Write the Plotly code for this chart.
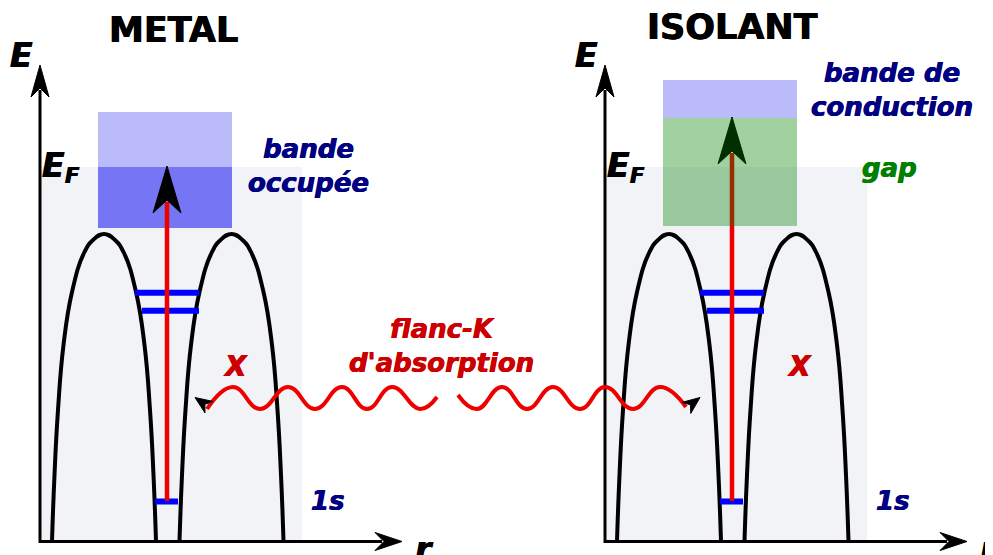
import plotly.graph_objects as go

W, H = 993, 555
FONT = "DejaVu Sans"
PAGE_MARGIN = 8  # default body margin of the html page

# ---- layout data (pixel space, y downward) ----
panel_offsets = [0, 565]
panel_titles = ["METAL", "ISOLANT"]
title_x = [173, 732]
title_y = [30, 27]

axis_x = 40
axis_bottom = 541.5
axis_top_tip = 65
axis_right_tip = 402

ef_box = dict(x0=40, x1=302, y0=167, y1=541.5)

well_centers = [104, 231.5]
well_profile_y = [234, 240, 253, 292, 345, 410, 475, 541]
well_profile_w = [0, 11, 20, 32, 40.5, 46, 49.5, 52]

level_y = [292.7, 310.7, 501.5]
level_x0 = [135, 142, 155]
level_x1 = [199, 199, 178]

band_x = [98, 232]
metal_light_y = [112, 167]
metal_dark_y = [167, 228]
iso_cond_y = [80, 118]
iso_gap_y = [118, 226]

arrow_x = 167
arrow_base_y = 501
arrow_tip_y = [166, 117]

# X-ray wave (read extrema)
wave1_x = [207, 233, 260, 288, 315, 342, 367, 392, 420, 437]
wave1_y = [409, 387, 409, 387, 409, 387, 409, 387, 409, 397]
wave2_x = [458, 477, 502, 527, 553, 580, 605, 633, 660, 686]
wave2_y = [395, 409, 387, 409, 387, 409, 387, 409, 387, 407]

# colours
C_GRAY = "#f2f3f7"
C_LIGHT = "#bbbbf9"
C_DARK = "#7676f4"
C_GREEN = "rgba(0,128,0,0.37)"
C_RED = "#ee0000"
C_TXT_RED = "#cc0000"
C_NAVY = "#000080"
C_BLUE = "#0000ff"

fig = go.Figure()
shapes = []
annotations = []


def arrowhead(tx, ty, dx, dy, L, Wd, notch, color="black"):
    n = (dx * dx + dy * dy) ** 0.5
    ux, uy = dx / n, dy / n
    px, py = -uy, ux
    bx, by = tx - L * ux, ty - L * uy
    nx, ny = tx - (L - notch) * ux, ty - (L - notch) * uy
    xs = [tx, bx + Wd * px, nx, bx - Wd * px, tx]
    ys = [ty, by + Wd * py, ny, by - Wd * py, ty]
    fig.add_trace(go.Scatter(x=xs, y=ys, mode="lines", fill="toself",
                             fillcolor=color, line=dict(color=color, width=1),
                             hoverinfo="skip", showlegend=False))


def line(xs, ys, color, width, shape="linear"):
    fig.add_trace(go.Scatter(x=xs, y=ys, mode="lines",
                             line=dict(color=color, width=width, shape=shape, smoothing=1.3),
                             hoverinfo="skip", showlegend=False))


def text(x, y, s, size, color="black", xanchor="center"):
    shadow = "0.4px 0 0 %s, -0.4px 0 0 %s" % (color, color)
    annotations.append(dict(x=x, y=y, xref="x", yref="y", text=s, showarrow=False,
                            font=dict(family=FONT, size=size, color=color, shadow=shadow),
                            xanchor=xanchor, yanchor="middle", align="center"))


for i, o in enumerate(panel_offsets):
    shapes.append(dict(type="rect", x0=ef_box["x0"] + o, x1=ef_box["x1"] + o,
                       y0=ef_box["y0"], y1=ef_box["y1"], fillcolor=C_GRAY,
                       line=dict(width=0), layer="below"))
    if i == 0:
        shapes.append(dict(type="rect", x0=band_x[0] + o, x1=band_x[1] + o,
                           y0=metal_light_y[0], y1=metal_light_y[1], fillcolor=C_LIGHT,
                           line=dict(width=0), layer="below"))
        shapes.append(dict(type="rect", x0=band_x[0] + o, x1=band_x[1] + o,
                           y0=metal_dark_y[0], y1=metal_dark_y[1], fillcolor=C_DARK,
                           line=dict(width=0), layer="below"))
    else:
        shapes.append(dict(type="rect", x0=band_x[0] + o, x1=band_x[1] + o,
                           y0=iso_cond_y[0], y1=iso_cond_y[1], fillcolor=C_LIGHT,
                           line=dict(width=0), layer="below"))
        shapes.append(dict(type="rect", x0=band_x[0] + o, x1=band_x[1] + o,
                           y0=iso_gap_y[0], y1=iso_gap_y[1], fillcolor=C_GREEN,
                           line=dict(width=0), layer="above"))

    for c in well_centers:
        xs = [c + o - w for w in reversed(well_profile_w)] + [c + o + w for w in well_profile_w[1:]]
        ys = list(reversed(well_profile_y)) + well_profile_y[1:]
        line(xs, ys, "black", 4, "spline")

    for ly, lx0, lx1 in zip(level_y, level_x0, level_x1):
        line([lx0 + o, lx1 + o], [ly, ly], C_BLUE, 6)

    tip = arrow_tip_y[i]
    line([arrow_x + o, arrow_x + o], [arrow_base_y, tip + 36], C_RED, 4.5)
    arrowhead(arrow_x + o, tip, 0, -1, 47, 14, 13)

    line([axis_x + o, axis_x + o, axis_right_tip + o - 20],
         [axis_top_tip + 25, axis_bottom, axis_bottom], "black", 3)
    arrowhead(axis_x + o, axis_top_tip, 0, -1, 32, 9, 9)
    arrowhead(axis_right_tip + o, axis_bottom, 1, 0, 27, 9, 9)

    text(title_x[i], title_y[i], "<b>%s</b>" % panel_titles[i], 35)
    text(21 + o, 55, "<b><i>E</i></b>", 33)
    text(424 + o, 549, "<b><i>r</i></b>", 33)
    text(53 + o, 165, "<b><i>E</i></b>", 33)
    text(72 + o, 176, "<b><i>F</i></b>", 21)
    text(328 + o, 501, "<b><i>1s</i></b>", 26, C_NAVY)

line(wave1_x, wave1_y, C_RED, 4, "spline")
line(wave2_x, wave2_y, C_RED, 4, "spline")
arrowhead(195, 397.5, -13, -9, 17, 7, 5)
arrowhead(700, 397.5, 13, -10, 17, 7, 5)

text(235, 366, "<b><i>X</i></b>", 28, C_TXT_RED)
text(799, 366, "<b><i>X</i></b>", 28, C_TXT_RED)
text(308, 166, "<b><i>bande<br>occupée</i></b>", 26, C_NAVY)
text(892, 90, "<b><i>bande de<br>conduction</i></b>", 26, C_NAVY)
text(889, 168, "<b><i>gap</i></b>", 26, "#008000")
text(441, 346, "<b><i>flanc-K<br>d'absorption</i></b>", 26, C_TXT_RED)

fig.update_layout(
    width=W, height=H, autosize=False,
    margin=dict(l=0, r=0, t=0, b=0),
    paper_bgcolor="white", plot_bgcolor="white",
    xaxis=dict(range=[PAGE_MARGIN, W + PAGE_MARGIN], visible=False, fixedrange=True),
    yaxis=dict(range=[H + PAGE_MARGIN, PAGE_MARGIN], visible=False, fixedrange=True),
    shapes=shapes, annotations=annotations, showlegend=False,
)

fig.write_html("out.html")
